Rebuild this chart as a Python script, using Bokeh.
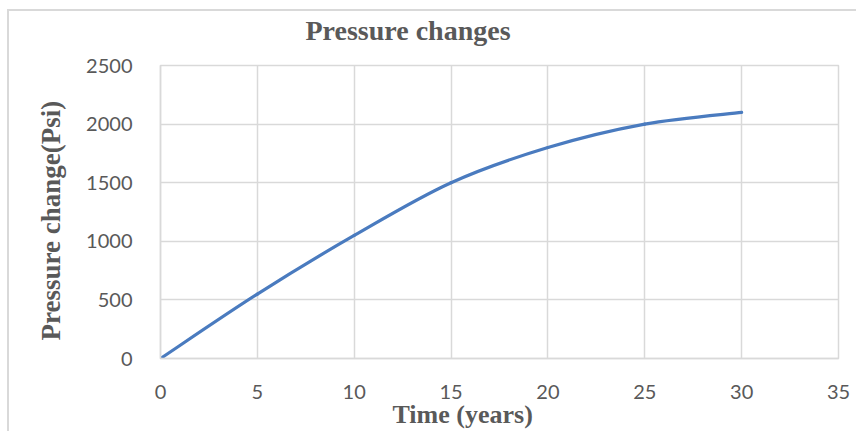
from bokeh.embed import file_html
from bokeh.models import Range1d, FixedTicker, Title
from bokeh.plotting import figure
from bokeh.resources import INLINE

# Pressure change over the years
years = [0, 5, 10, 15, 20, 25, 30]
pressure_change = [0, 550, 1050, 1500, 1800, 2000, 2100]

x_ticks = [0, 5, 10, 15, 20, 25, 30, 35]
y_ticks = [0, 500, 1000, 1500, 2000, 2500]

title_text = "Pressure changes"
x_title = "Time (years)"
y_title = "Pressure change(Psi)"

GRID = "#d9d9d9"
TEXT = "#595959"
LINE = "#4a7bbf"
SERIF = "Liberation Serif"
SANS = "Lato"

p = figure(
    width=849, height=422,
    x_range=Range1d(0, 35), y_range=Range1d(0, 2500),
    output_backend="svg", toolbar_location=None,
    min_border_left=151, min_border_right=20,
    min_border_top=53, min_border_bottom=75,
    background_fill_color="white", border_fill_color="white",
)
p.styles = {
    "margin-left": "7px", "margin-top": "9px",
    "border-left": f"2px solid {GRID}", "border-top": f"2px solid {GRID}",
}
p.outline_line_color = GRID
p.outline_line_width = 1.5

for ax, ticks in ((p.xaxis, x_ticks), (p.yaxis, y_ticks)):
    ax.ticker = FixedTicker(ticks=ticks)
    ax.axis_line_color = GRID
    ax.axis_line_width = 1.5
    ax.major_tick_line_color = None
    ax.minor_tick_line_color = None
    ax.major_label_text_font = SANS
    ax.major_label_text_font_size = "20px"
    ax.major_label_text_color = TEXT
p.xaxis.major_label_standoff = 20
p.yaxis.major_label_standoff = 22

p.grid.grid_line_color = GRID
p.grid.grid_line_width = 1.5

# Smoothed series: cubic Bezier segments whose control points follow the
# neighbouring data points (Catmull-Rom style)
n = len(years)
x0, y0, x1, y1, cx0, cy0, cx1, cy1 = ([] for _ in range(8))
for i in range(n - 1):
    pa = (years[max(i - 1, 0)], pressure_change[max(i - 1, 0)])
    pb = (years[i], pressure_change[i])
    pc = (years[i + 1], pressure_change[i + 1])
    pd = (years[min(i + 2, n - 1)], pressure_change[min(i + 2, n - 1)])
    x0.append(pb[0]); y0.append(pb[1])
    x1.append(pc[0]); y1.append(pc[1])
    cx0.append(pb[0] + (pc[0] - pa[0]) / 6); cy0.append(pb[1] + (pc[1] - pa[1]) / 6)
    cx1.append(pc[0] - (pd[0] - pb[0]) / 6); cy1.append(pc[1] - (pd[1] - pb[1]) / 6)
p.bezier(x0=x0, y0=y0, x1=x1, y1=y1, cx0=cx0, cy0=cy0, cx1=cx1, cy1=cy1,
         line_color=LINE, line_width=3.2, line_cap="round")

# Chart title and axis titles
def serif_title(text, size, align, offset, standoff):
    return Title(text=text, text_font=SERIF, text_font_size=size,
                 text_font_style="bold", text_color=TEXT,
                 align=align, offset=offset, standoff=standoff)

p.title = serif_title(title_text, "28px", "left", 145, 2)
# thin gap panel between the chart title and the plot frame
p.add_layout(Title(text=" ", text_font_size="1px", standoff=16), "above")
p.add_layout(serif_title(x_title, "26px", "left", 232, -8), "below")
p.add_layout(serif_title(y_title, "27px", "left", 18, 36), "left")

open("out.html", "w").write(file_html(p, INLINE))
